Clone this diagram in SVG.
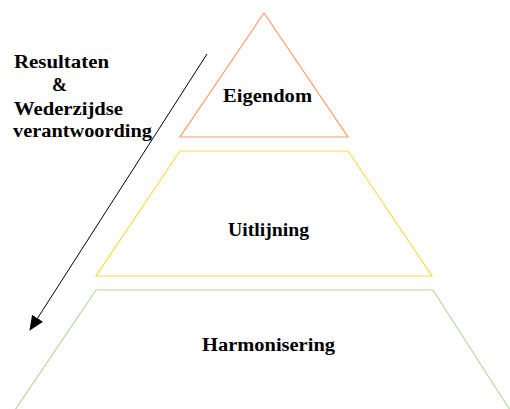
<svg xmlns="http://www.w3.org/2000/svg" width="510" height="409" viewBox="0 0 510 409">
<style>
.lbl{font-family:"Liberation Serif","Times New Roman",serif;font-weight:bold;font-size:18px;fill:#000}
.shape{fill:none;stroke-width:1.2}
</style>
<defs>
<marker id="ah" markerWidth="15" markerHeight="13" refX="14" refY="6.5" orient="auto" markerUnits="userSpaceOnUse">
<path d="M0,0 L15,6.5 L0,13 z" fill="#000"/>
</marker>
</defs>
<rect width="510" height="409" fill="#fff"/>
<g id="eigendom">
<polygon class="shape" points="264,13 348,137 180,137" stroke="#FF9A6A"/>
<text class="lbl" x="267.5" y="102" text-anchor="middle" textLength="89" lengthAdjust="spacingAndGlyphs">Eigendom</text>
</g>
<g id="uitlijning">
<polygon class="shape" points="180,151 348,151 432,276 96,276" stroke="#FFD84A"/>
<text class="lbl" x="268.5" y="236" text-anchor="middle" textLength="81" lengthAdjust="spacingAndGlyphs">Uitlijning</text>
</g>
<g id="harmonisering">
<polygon class="shape" points="96,290 433,290 510,410 15,410" stroke="#B5DA9C"/>
<text class="lbl" x="268.5" y="351" text-anchor="middle" textLength="133" lengthAdjust="spacingAndGlyphs">Harmonisering</text>
</g>
<g id="label">
<text class="lbl" x="14" y="68" textLength="95" lengthAdjust="spacingAndGlyphs">Resultaten</text>
<text class="lbl" x="52" y="91">&amp;</text>
<text class="lbl" x="14" y="115" textLength="109" lengthAdjust="spacingAndGlyphs">Wederzijdse</text>
<text class="lbl" x="13" y="137" textLength="139" lengthAdjust="spacingAndGlyphs">verantwoording</text>
</g>
<g id="connectors">
<line x1="207" y1="54" x2="30" y2="330" stroke="#000" stroke-width="1" marker-end="url(#ah)"/>
</g>
</svg>
